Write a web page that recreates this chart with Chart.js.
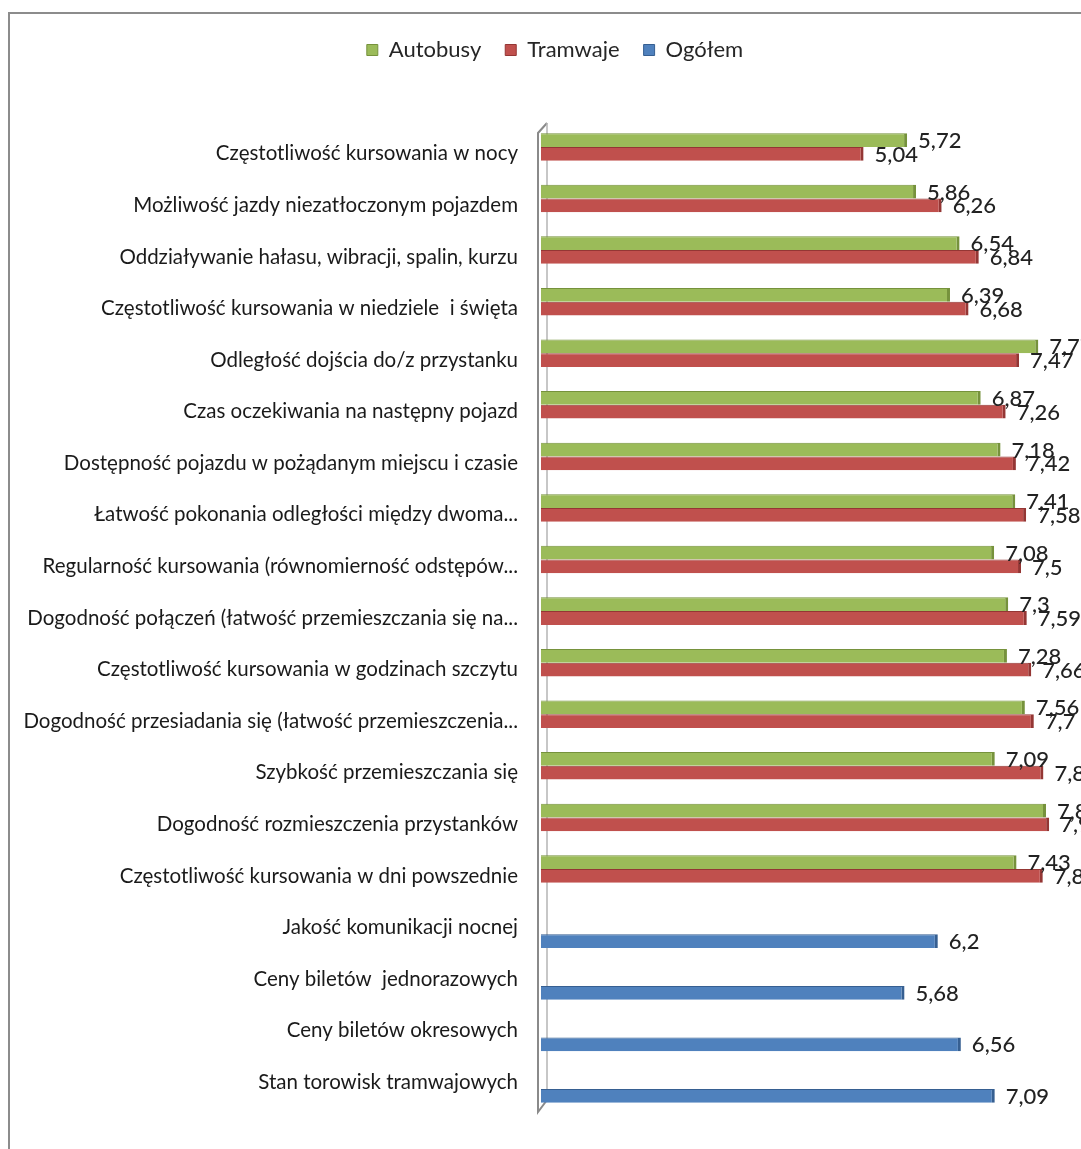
<!DOCTYPE html>
<html>
<head>
<meta charset="utf-8">
<script src="https://cdn.jsdelivr.net/npm/chart.js@4.4.0/dist/chart.umd.min.js"></script>
<style>
  html, body { margin: 0; padding: 0; background: #fff; overflow: hidden; }
  #wrap { position: relative; width: 1081px; height: 1149px; overflow: hidden; }
  #frame { position: absolute; left: 8px; top: 12px; width: 1200px; height: 1200px;
           border: 2px solid #8c8c8c; pointer-events: none; }
  canvas { position: absolute; left: 0; top: 0; }
</style>
</head>
<body>
<div id="wrap">
  <canvas id="chart" width="1110" height="1149"></canvas>
  <div id="frame"></div>
</div>
<script>
const categories = [
  'Częstotliwość kursowania w nocy',
  'Możliwość jazdy niezatłoczonym pojazdem',
  'Oddziaływanie hałasu, wibracji, spalin, kurzu',
  'Częstotliwość kursowania w niedziele  i święta',
  'Odległość dojścia do/z przystanku',
  'Czas oczekiwania na następny pojazd',
  'Dostępność pojazdu w pożądanym miejscu i czasie',
  'Łatwość pokonania odległości między dwoma...',
  'Regularność kursowania (równomierność odstępów...',
  'Dogodność połączeń (łatwość przemieszczania się na...',
  'Częstotliwość kursowania w godzinach szczytu',
  'Dogodność przesiadania się (łatwość przemieszczenia...',
  'Szybkość przemieszczania się',
  'Dogodność rozmieszczenia przystanków',
  'Częstotliwość kursowania w dni powszednie',
  'Jakość komunikacji nocnej',
  'Ceny biletów  jednorazowych',
  'Ceny biletów okresowych',
  'Stan torowisk tramwajowych'
];

const autobusy = [5.72, 5.86, 6.54, 6.39, 7.77, 6.87, 7.18, 7.41, 7.08, 7.3, 7.28, 7.56, 7.09, 7.89, 7.43,
  null, null, null, null];
const tramwaje = [5.04, 6.26, 6.84, 6.68, 7.47, 7.26, 7.42, 7.58, 7.5, 7.59, 7.66, 7.7, 7.85, 7.94, 7.84,
  null, null, null, null];
const ogolem = [null, null, null, null, null, null, null, null, null, null, null, null, null, null, null,
  6.2, 5.68, 6.56, 7.09];

const FONT = 'Lato, "Open Sans", sans-serif';

// grey 3d "wall" on the left of the plot, like the old Excel chart
const wallPlugin = {
  id: 'wall',
  beforeDatasetsDraw(chart) {
    const a = chart.chartArea;
    const ctx = chart.ctx;
    ctx.save();
    ctx.strokeStyle = '#8a8a8a';
    ctx.lineWidth = 2;
    ctx.beginPath();
    ctx.moveTo(a.left + 6, a.top - 5);
    ctx.lineTo(a.left - 3, a.top + 5);
    ctx.lineTo(a.left - 3, a.bottom + 4);
    ctx.lineTo(a.left + 6, a.bottom - 8);
    ctx.stroke();
    ctx.strokeStyle = '#b5b5b5';
    ctx.lineWidth = 1.5;
    ctx.beginPath();
    ctx.moveTo(a.left + 6, a.top - 5);
    ctx.lineTo(a.left + 6, a.bottom - 8);
    ctx.stroke();
    ctx.restore();
  }
};

// value labels just right of each bar end
const valuePlugin = {
  id: 'values',
  afterDatasetsDraw(chart) {
    const ctx = chart.ctx;
    ctx.save();
    ctx.font = '500 22px ' + FONT;
    ctx.fillStyle = '#222';
    ctx.textBaseline = 'middle';
    chart.data.datasets.forEach((ds, i) => {
      chart.getDatasetMeta(i).data.forEach((bar, j) => {
        const v = ds.data[j];
        if (v === null) return;
        ctx.fillText(String(v).replace('.', ','), bar.x + 11, bar.y + 1);
      });
    });
    ctx.restore();
  }
};

// extra room under the legend
const legendGap = {
  id: 'legendGap',
  beforeInit(chart) {
    const fit = chart.legend.fit;
    chart.legend.fit = function () {
      fit.bind(chart.legend)();
      this.height += 57;
    };
  }
};

new Chart(document.getElementById('chart'), {
  type: 'bar',
  data: {
    labels: categories,
    datasets: [
      { label: 'Autobusy', data: autobusy, backgroundColor: '#9bbb59',
        borderColor: '#76923c', borderWidth: { right: 3, top: 1 } },
      { label: 'Tramwaje', data: tramwaje, backgroundColor: '#c0504d',
        borderColor: '#943634', borderWidth: { right: 3, top: 1 } },
      { label: 'Ogółem', data: ogolem, backgroundColor: '#4f81bd',
        borderColor: '#365f91', borderWidth: { right: 3, top: 1 } }
    ]
  },
  options: {
    indexAxis: 'y',
    responsive: false,
    animation: false,
    layout: { padding: { top: 15, bottom: 41, left: 0, right: 0 } },
    datasets: { bar: { categoryPercentage: 0.8, barPercentage: 1, borderSkipped: 'start' } },
    scales: {
      x: { display: false, min: 0, max: 8.89 },
      y: {
        grid: { display: false },
        border: { display: false },
        ticks: { color: '#1a1a1a', font: { family: FONT, size: 20.5 }, padding: 15, autoSkip: false },
        afterFit(s) { s.width = 541; }
      }
    },
    plugins: {
      legend: {
        position: 'top',
        labels: {
          boxWidth: 11, boxHeight: 11, padding: 24, color: '#262626',
          font: { family: FONT, size: 22 }
        }
      },
      tooltip: { enabled: false }
    }
  },
  plugins: [wallPlugin, valuePlugin, legendGap]
});
</script>
</body>
</html>
